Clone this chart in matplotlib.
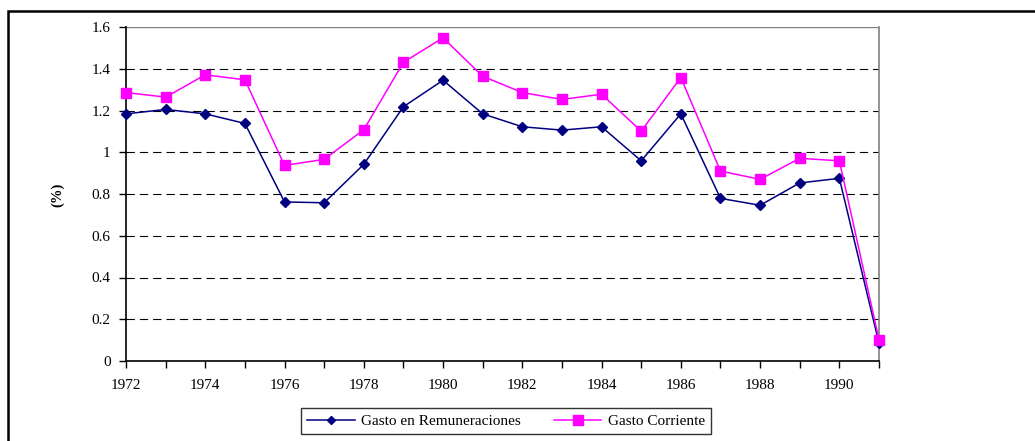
import matplotlib
matplotlib.use("Agg")
import matplotlib.pyplot as plt
from matplotlib.patches import Rectangle

years = list(range(1972, 1992))
remuneraciones = [1.184, 1.205, 1.184, 1.138, 0.762, 0.758, 0.942, 1.218, 1.345, 1.184,
                  1.122, 1.106, 1.122, 0.959, 1.184, 0.779, 0.746, 0.853, 0.875, 0.085]
corriente = [1.286, 1.264, 1.371, 1.347, 0.937, 0.966, 1.108, 1.431, 1.548, 1.364,
             1.286, 1.253, 1.278, 1.101, 1.358, 0.910, 0.870, 0.971, 0.959, 0.102]
yticks = [0, 0.2, 0.4, 0.6, 0.8, 1.0, 1.2, 1.4, 1.6]
ytick_labels = ["0", "0.2", "0.4", "0.6", "0.8", "1", "1.2", "1.4", "1.6"]

plt.rcParams['font.family'] = ['Liberation Serif', 'DejaVu Serif']

W, H = 1035, 441
fig = plt.figure(figsize=(W / 100, H / 100), dpi=100)
left, right, top, bottom = 126, 879, 27, 361
ax = fig.add_axes([left / W, 1 - bottom / H, (right - left) / W, (bottom - top) / H])

# outer frame
fig.patches.append(Rectangle((8 / W, -0.5), 2.0, 1 - 11 / H + 0.5, transform=fig.transFigure,
                             fill=False, edgecolor='black', linewidth=1.8, zorder=0))

for yv in yticks[1:-1]:
    ax.axhline(yv, color='black', linewidth=0.8, linestyle=(0, (7.5, 4.5)), zorder=1)
ax.axhline(1.6, color='#808080', linewidth=1.0, zorder=1)

ax.plot(years, remuneraciones, color='#000080', linewidth=1.1, marker='D', markersize=5,
        markerfacecolor='#000080', markeredgecolor='#000080', label='Gasto en Remuneraciones',
        zorder=3, clip_on=False)
ax.plot(years, corriente, color='#FF00FF', linewidth=1.1, marker='s', markersize=7.5,
        markerfacecolor='#FF00FF', markeredgecolor='#FF00FF', label='Gasto Corriente',
        zorder=4, clip_on=False)

ax.set_xlim(1972, 1991)
ax.set_ylim(0, 1.6)
ax.set_xticks(years)
ax.set_xticklabels([str(y) if (y - 1972) % 2 == 0 else '' for y in years])
ax.set_yticks(yticks)
ax.set_yticklabels(ytick_labels)
ax.tick_params(axis='both', direction='out', length=5, width=1, color='black',
               labelsize=11, pad=6)
ax.tick_params(axis='x', pad=8)

for s in ['left', 'bottom']:
    ax.spines[s].set_color('black')
    ax.spines[s].set_linewidth(1.2)
ax.spines['top'].set_visible(False)
ax.spines['right'].set_color('#808080')
ax.spines['right'].set_linewidth(1.2)

fig.text(58 / W, 1 - 195 / H, '(%)', rotation=90, fontsize=10.5, fontweight='bold',
         ha='center', va='center')

leg = fig.legend(loc='center', bbox_to_anchor=(506 / W, 1 - 421 / H), ncol=2,
                 fontsize=11, frameon=True, fancybox=False, handlelength=3.1,
                 columnspacing=2.2, handletextpad=0.4, borderpad=0.4, borderaxespad=0,
                 markerscale=0.9)
leg.get_frame().set_edgecolor('black')
leg.get_frame().set_linewidth(1.0)

fig.savefig('out.png', dpi=100)
